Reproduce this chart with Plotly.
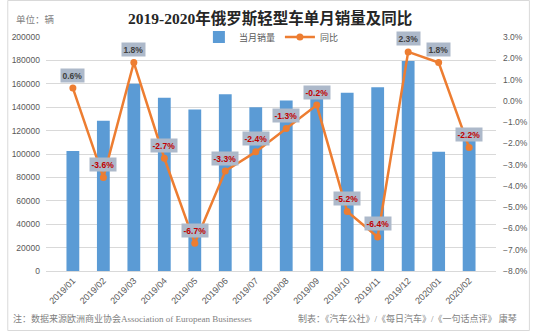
import plotly.graph_objects as go

# Monthly light-vehicle sales in Russia and year-on-year change
months = ["2019/01", "2019/02", "2019/03", "2019/04", "2019/05", "2019/06", "2019/07",
          "2019/08", "2019/09", "2019/10", "2019/11", "2019/12", "2020/01", "2020/02"]
sales = [102500, 128500, 160000, 148000, 138000, 151000, 140000,
         145700, 148600, 152300, 157100, 179400, 102000, 115000]
yoy_pct = [0.6, -3.6, 1.8, -2.7, -6.7, -3.3, -2.4, -1.3, -0.2, -5.2, -6.4, 2.3, 1.8, -2.2]

BLUE = "#5B9BD5"
ORANGE = "#ED7D31"
GRID = "#D9D9D9"
TICK = "#595959"
SANS = "Liberation Sans, Noto Sans CJK SC"
SERIF = "Liberation Serif, Noto Sans CJK SC"

fig = go.Figure()
fig.add_trace(go.Bar(
    x=months, y=sales, name="当月销量",
    marker=dict(color=BLUE, line=dict(width=0)),
))
fig.add_trace(go.Scatter(
    x=months, y=[v / 100 for v in yoy_pct], name="同比", yaxis="y2",
    mode="lines+markers",
    line=dict(color=ORANGE, width=2.5),
    marker=dict(color=ORANGE, size=7),
))

# Percentage data labels above each point
annotations = []
for m, v in zip(months, yoy_pct):
    annotations.append(dict(
        x=m, y=v / 100, xref="x", yref="y2",
        text=f"<b>{v:.1f}%</b>", showarrow=False, yshift=13,
        bgcolor="#ADB9CA", borderpad=1.5,
        font=dict(family=SANS, size=8.5, color="#404040" if v >= 0 else "#C00000"),
    ))

# Plot area spans pixels x 40..505, y 37..271
def px_x(px):
    return (px - 40) / 465

def px_y(py):
    return (271 - py) / 234

annotations += [
    dict(x=px_x(271), y=px_y(18), xref="paper", yref="paper", showarrow=False,
         text="<b>2019-2020年俄罗斯轻型车单月销量及同比</b>",
         font=dict(family=SERIF, size=15.5, color="#262626"),
         xanchor="center", yanchor="middle"),
    dict(x=px_x(7), y=px_y(19), xref="paper", yref="paper", showarrow=False,
         text="单位：辆", font=dict(family=SANS, size=9.5, color="#7F7F7F"),
         xanchor="left", yanchor="middle"),
    dict(x=px_x(4), y=px_y(318), xref="paper", yref="paper", showarrow=False,
         text="注：数据来源欧洲商业协会Association of European Businesses",
         font=dict(family=SERIF, size=9, color="#7F7F7F"),
         xanchor="left", yanchor="middle"),
    dict(x=px_x(298), y=px_y(318), xref="paper", yref="paper", showarrow=False,
         text="制表：《汽车公社》/《每日汽车》/《一句话点评》 康琴",
         font=dict(family=SERIF, size=9, color="#7F7F7F"),
         xanchor="left", yanchor="middle"),
]

fig.update_layout(
    width=540, height=331,
    margin=dict(l=40, r=35, t=37, b=60),
    paper_bgcolor="white", plot_bgcolor="white",
    bargap=0.58,
    showlegend=True,
    legend=dict(orientation="h", x=px_x(198), y=1.0, xanchor="left", yanchor="middle",
                bgcolor="white", font=dict(family=SANS, size=9, color=TICK),
                itemwidth=30, tracegroupgap=0),
    xaxis=dict(type="category", tickangle=-45, showgrid=False, showline=True,
               linecolor=GRID, ticks="", tickfont=dict(family=SANS, size=9, color=TICK)),
    yaxis=dict(range=[0, 200000], dtick=20000, tickformat="d", showgrid=True,
               gridcolor=GRID, gridwidth=1, zeroline=False, showline=False,
               ticklabelstandoff=5,
               tickfont=dict(family=SANS, size=8.5, color=TICK)),
    yaxis2=dict(range=[-0.08, 0.03], dtick=0.01, tickformat=".1%", overlaying="y",
                side="right", showgrid=False, zeroline=False, showline=False,
                ticklabelstandoff=6,
                tickfont=dict(family=SANS, size=8.5, color=TICK)),
    annotations=annotations,
    shapes=[dict(type="rect", xref="paper", yref="paper",
                 x0=px_x(0.5), x1=px_x(539.5), y0=px_y(330.5), y1=px_y(0.5),
                 line=dict(color=GRID, width=1), layer="below")],
)

fig.write_html("out.html")
